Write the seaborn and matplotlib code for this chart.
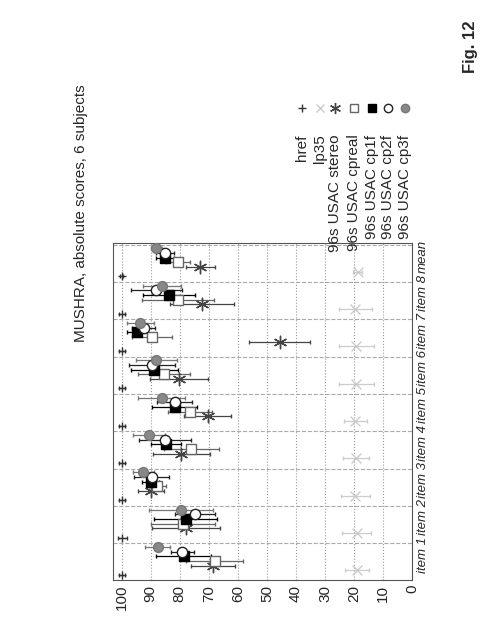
import matplotlib
matplotlib.use("Agg")
import matplotlib.pyplot as plt
from matplotlib.lines import Line2D
import seaborn as sns
import pandas as pd
import numpy as np

items = ["item 1", "item 2", "item 3", "item 4", "item 5", "item 6", "item 7", "item 8", "mean"]
systems = ["href", "lp35", "96s USAC stereo", "96s USAC cpreal",
           "96s USAC cp1f", "96s USAC cp2f", "96s USAC cp3f"]

# mean scores per system (one value per item)
href = [100, 99.7, 100, 100, 100, 100, 100, 100, 100]
lp35 = [19, 19, 19.5, 19.2, 19.5, 19.2, 19.2, 19.5, 18.8]
stereo = [68.6, 78, 90, 79.5, 70.4, 80.3, 45.6, 72.3, 73]
cpreal = [68, 79, 87.7, 76, 76.4, 85.4, 89.5, 80.6, 80.6]
cp1f = [78.6, 78, 90, 84.7, 81.7, 88.7, 94.7, 83.8, 85]
cp2f = [79.1, 74.7, 89.6, 85, 81.7, 89.5, 92.4, 88, 85]
cp3f = [87.6, 79.5, 92.5, 90.5, 86.2, 88.1, 93.5, 86.2, 88]
# confidence interval half widths
href_ci = [1, 1.5, 1, 1, 1, 1, 1, 1, 0.5]
lp35_ci = [4, 5, 5, 4.5, 4, 6, 6, 5.6, 1.5]
stereo_ci = [7.5, 11.7, 4.5, 9.8, 8, 10, 10.5, 11, 5]
cpreal_ci = [9.7, 11, 3, 9.5, 7.5, 9, 7, 12.5, 4]
cp1f_ci = [9.5, 11, 3, 5.2, 7.7, 8, 3.5, 9, 3]
cp2f_ci = [4, 7, 6, 9, 6, 8, 4, 8.7, 3]
cp3f_ci = [4.3, 11, 3.5, 5.5, 8, 7, 4.5, 6.5, 2]

scores = [href, lp35, stereo, cpreal, cp1f, cp2f, cp3f]
cis = [href_ci, lp35_ci, stereo_ci, cpreal_ci, cp1f_ci, cp2f_ci, cp3f_ci]

rows = []
for j, (name, vals, ci) in enumerate(zip(systems, scores, cis)):
    for k, (v, c) in enumerate(zip(vals, ci)):
        rows.append({"system": name, "pos": k + 0.125 * j, "score": v, "ci": c})
df = pd.DataFrame(rows)

markers = {"href": "+", "lp35": "x", "96s USAC stereo": (6, 2, 0),
           "96s USAC cpreal": "s", "96s USAC cp1f": "s", "96s USAC cp2f": "o",
           "96s USAC cp3f": "o"}
edge = {"href": "#333333", "lp35": "#cccccc", "96s USAC stereo": "#444444",
        "96s USAC cpreal": "#666666", "96s USAC cp1f": "#000000",
        "96s USAC cp2f": "#222222", "96s USAC cp3f": "#777777"}
face = {"href": "#333333", "lp35": "#cccccc", "96s USAC stereo": "#444444",
        "96s USAC cpreal": "white", "96s USAC cp1f": "#000000",
        "96s USAC cp2f": "white", "96s USAC cp3f": "#888888"}
sizes = {"href": 40, "lp35": 50, "96s USAC stereo": 80, "96s USAC cpreal": 55,
         "96s USAC cp1f": 60, "96s USAC cp2f": 55, "96s USAC cp3f": 50}
bar_ls = {"href": ":", "lp35": "--", "96s USAC stereo": "-", "96s USAC cpreal": ":",
          "96s USAC cp1f": "-", "96s USAC cp2f": "-", "96s USAC cp3f": ":"}

sns.set_style("white")
plt.rcParams["font.family"] = ["Liberation Sans", "DejaVu Sans"]
fig = plt.figure(figsize=(4.93, 6.26), dpi=100)
ax = fig.add_axes([0.229, 0.0735, 0.607, 0.5385])

for name in systems:
    sub = df[df.system == name]
    ax.errorbar(sub.score, sub.pos, xerr=sub.ci, fmt="none", ecolor=edge[name],
                elinewidth=0.9, capsize=1.5, linestyle=bar_ls[name], zorder=2)
    sns.scatterplot(data=sub, x="score", y="pos", marker=markers[name], s=sizes[name],
                    color=face[name], edgecolor=edge[name],
                    linewidth=1.0, ax=ax, zorder=3, legend=False)

ax.set_xlim(103, 0)
ax.set_ylim(-0.13, 8.9)
ax.set_xticks(range(0, 101, 10))
ax.set_xticklabels([str(v) for v in range(0, 101, 10)], rotation=90, fontsize=11)
ax.set_yticks([k + 0.85 for k in range(9)])
ax.set_yticklabels([])
ax.set_xlabel("")
ax.set_ylabel("")
ax.xaxis.grid(True, linestyle=":", color="#999999", linewidth=0.8)
ax.yaxis.grid(True, linestyle="--", color="#aaaaaa", linewidth=0.8)
ax.tick_params(axis="both", direction="in", length=3)
for s in ax.spines.values():
    s.set_color("#555555")
for k, lab in enumerate(items):
    ax.text(-1.5, k + 0.55, lab, rotation=90, ha="left", va="center",
            fontsize=9.5, style="italic", clip_on=False)

fig.text(0.165, 0.66, "MUSHRA, absolute scores, 6 subjects", rotation=90,
         ha="center", va="center", fontsize=11)
fig.text(0.955, 0.925, "Fig. 12", rotation=90, ha="center", va="center",
         fontsize=12, fontweight="bold")

leg_x = [0.612, 0.649, 0.68, 0.718, 0.755, 0.787, 0.822]
for j, name in enumerate(systems):
    fig.add_artist(Line2D([leg_x[j]], [0.828], marker=markers[name], linestyle="none",
                          markersize=6 if name != "96s USAC stereo" else 8,
                          markerfacecolor=face[name], markeredgecolor=edge[name],
                          color=edge[name], transform=fig.transFigure))
    fig.text(leg_x[j], 0.785, name, rotation=90, ha="center", va="top", fontsize=11)

fig.savefig("out.png", dpi=100)
